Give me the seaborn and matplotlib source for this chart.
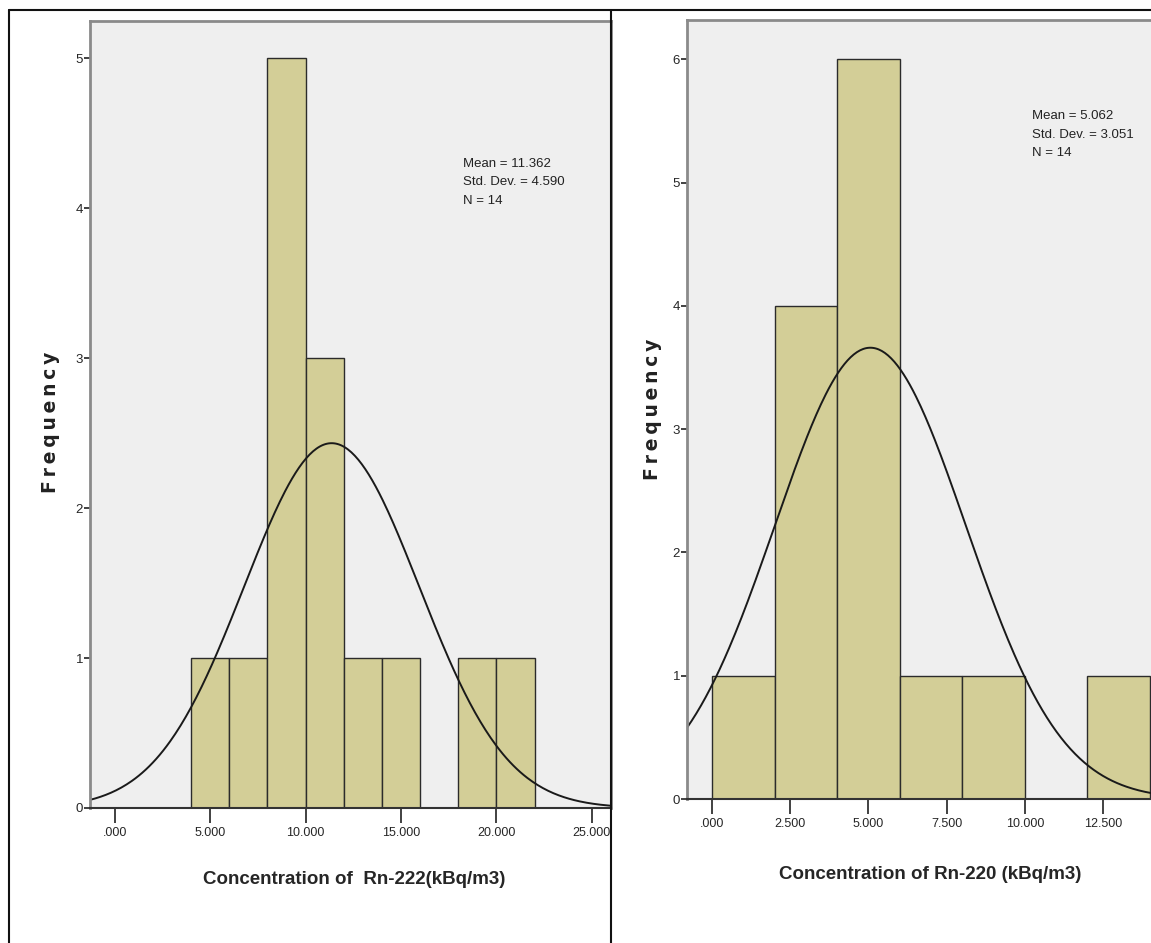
import numpy as np
import pandas as pd
import seaborn as sns
import matplotlib.pyplot as plt
from matplotlib.lines import Line2D

# Rn-222 histogram (bin edges, counts per bin)
rn222_edges = [4, 6, 8, 10, 12, 14, 16, 18, 20, 22]
rn222_counts = [1, 1, 5, 3, 1, 1, 0, 1, 1]
rn222_mean, rn222_sd, rn222_n = 11.362, 4.590, 14
rn222_xticks = [0, 5, 10, 15, 20, 25]
rn222_xticklabels = [".000", "5.000", "10.000", "15.000", "20.000", "25.000"]
rn222_yticks = [0, 1, 2, 3, 4, 5]

# Rn-220 histogram
rn220_edges = [0, 2, 4, 6, 8, 10, 12, 14]
rn220_counts = [1, 4, 6, 1, 1, 0, 1]
rn220_mean, rn220_sd, rn220_n = 5.062, 3.051, 14
rn220_xticks = [0, 2.5, 5, 7.5, 10, 12.5]
rn220_xticklabels = [".000", "2.500", "5.000", "7.500", "10.000", "12.500"]
rn220_yticks = [0, 1, 2, 3, 4, 5, 6]

sns.set_style("white")
plt.rcParams["font.family"] = ["Liberation Sans", "DejaVu Sans"]

BAR = "#D3CE97"
BG = "#EFEFEF"

W, H = 1151, 943
fig = plt.figure(figsize=(W / 100, H / 100), dpi=100)


def px_axes(l, t, r, b):
    return fig.add_axes([l / W, 1 - b / H, (r - l) / W, (b - t) / H])


def draw_panel(ax, edges, counts, mean, sd, n, xlim, ylim, xticks, xlabels, yticks,
               xlabel, stats_pos, xlabel_pos, ylabel_pos):
    centers = [(a + b) / 2 for a, b in zip(edges[:-1], edges[1:])]
    df = pd.DataFrame({"x": centers, "w": counts})
    sns.histplot(data=df, x="x", weights="w", bins=list(edges), ax=ax,
                 color=BAR, alpha=1, edgecolor="#2b2b2b", linewidth=1.0)

    # fitted normal curve scaled to counts
    bw = edges[1] - edges[0]
    xs = np.linspace(xlim[0], xlim[1], 300)
    ys = n * bw / (sd * np.sqrt(2 * np.pi)) * np.exp(-0.5 * ((xs - mean) / sd) ** 2)
    sns.lineplot(x=xs, y=ys, ax=ax, color="#1a1a1a", linewidth=1.4)

    ax.set_facecolor(BG)
    ax.set_xlim(*xlim)
    ax.set_ylim(*ylim)
    ax.set_xticks(xticks)
    ax.set_xticklabels(xlabels, fontsize=9)
    ax.set_yticks(yticks)
    ax.set_yticklabels([str(v) for v in yticks], fontsize=9.5)
    ax.tick_params(axis="x", bottom=True, direction="out", length=11, width=1.3,
                   color="#333333", pad=3)
    ax.tick_params(axis="y", left=True, direction="out", length=4, width=1.3,
                   color="#333333", pad=1)
    for s in ["left", "top", "right"]:
        ax.spines[s].set_color("#8a8a8a")
        ax.spines[s].set_linewidth(2)
    ax.spines["bottom"].set_color("#333333")
    ax.spines["bottom"].set_linewidth(1.5)

    ax.set_xlabel(xlabel, fontsize=13.5, fontweight="bold")
    ax.xaxis.set_label_coords(*xlabel_pos)
    ax.set_ylabel("\u2009".join("Frequency"), fontsize=13.5, fontweight="bold",
                  family="DejaVu Sans", color="#222222")
    ax.yaxis.set_label_coords(*ylabel_pos)
    ax.text(stats_pos[0], stats_pos[1],
            f"Mean = {mean:.3f}\nStd. Dev. = {sd:.3f}\nN = {n}",
            transform=ax.transAxes, fontsize=9.5, va="top", ha="left",
            linespacing=1.7, color="#222222")


ax1 = px_axes(90, 21, 611, 808)
draw_panel(ax1, rn222_edges, rn222_counts, rn222_mean, rn222_sd, rn222_n,
           (-1.3, 26.0), (0, 5.25), rn222_xticks, rn222_xticklabels, rn222_yticks,
           "Concentration of  Rn-222(kBq/m3)", (0.716, 0.826),
           (0.508, -0.08), (-0.058, 0.49))

ax2 = px_axes(687, 20, 1153, 799)
draw_panel(ax2, rn220_edges, rn220_counts, rn220_mean, rn220_sd, rn220_n,
           (-0.8, 14.1), (0, 6.32), rn220_xticks, rn220_xticklabels, rn220_yticks,
           "Concentration of Rn-220 (kBq/m3)", (0.740, 0.884),
           (0.521, -0.086), (-0.054, 0.5))

# outer panel frames
fig.add_artist(Line2D([9 / W, 1], [1 - 10 / H, 1 - 10 / H], color="#111111", lw=1.5))
fig.add_artist(Line2D([9 / W, 9 / W], [0, 1 - 10 / H], color="#111111", lw=1.5))
fig.add_artist(Line2D([611 / W, 611 / W], [0, 1 - 10 / H], color="#111111", lw=1.5))

fig.savefig("out.png", dpi=100, facecolor="white")
